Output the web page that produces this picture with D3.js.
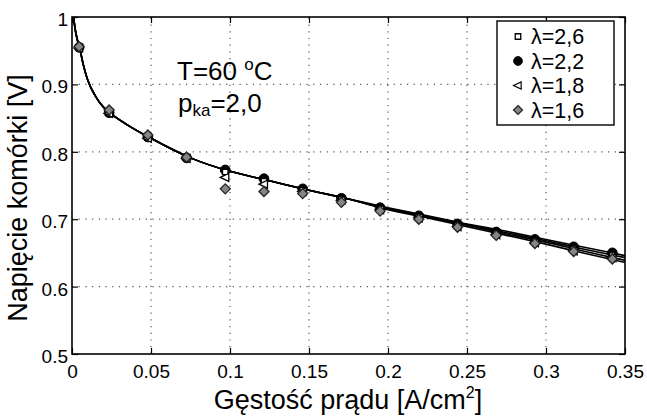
<!DOCTYPE html>
<html>
<head>
<meta charset="utf-8">
<script src="https://cdn.jsdelivr.net/npm/d3@7"></script>
<style>
  html, body { margin: 0; padding: 0; background: #fff; }
  svg { display: block; font-family: "Liberation Sans", Arial, Helvetica, sans-serif; }
</style>
</head>
<body>
<svg id="chart" width="647" height="417"></svg>
<script>
// ---- data ----
const xTicks = [0, 0.05, 0.1, 0.15, 0.2, 0.25, 0.3, 0.35];
const xTickLabels = ["0", "0.05", "0.1", "0.15", "0.2", "0.25", "0.3", "0.35"];
const yTicks = [0.5, 0.6, 0.7, 0.8, 0.9, 1.0];
const yTickLabels = ["0.5", "0.6", "0.7", "0.8", "0.9", "1"];

const seriesNames = ["λ=2,6", "λ=2,2", "λ=1,8", "λ=1,6"];

// measured points
const pointX = [0.0045, 0.0235, 0.048, 0.0725, 0.097, 0.1215, 0.146, 0.1705, 0.195, 0.2195, 0.244, 0.2685, 0.293, 0.3175, 0.342];
const lambda26 = [0.955, 0.857, 0.821, 0.790, 0.770, 0.756, 0.743, 0.729, 0.715, 0.703, 0.691, 0.679, 0.667, 0.656, 0.646];
const lambda22 = [0.955, 0.858, 0.822, 0.791, 0.773, 0.760, 0.745, 0.731, 0.717, 0.705, 0.693, 0.681, 0.670, 0.659, 0.650];
const lambda18 = [0.954, 0.857, 0.820, 0.790, 0.762, 0.752, 0.741, 0.728, 0.714, 0.702, 0.689, 0.677, 0.665, 0.653, 0.643];
const lambda16 = [0.956, 0.862, 0.825, 0.792, 0.745, 0.741, 0.738, 0.725, 0.712, 0.700, 0.688, 0.676, 0.664, 0.652, 0.641];

// model curves
const curveX = [0.001, 0.002, 0.003, 0.005, 0.0075, 0.01, 0.015, 0.02, 0.025, 0.035, 0.05, 0.075, 0.1, 0.125, 0.15, 0.175, 0.2, 0.225, 0.25, 0.275, 0.3, 0.325, 0.35];
const model26 = [1.0, 0.982, 0.970, 0.952, 0.926, 0.906, 0.882, 0.866, 0.856, 0.840, 0.820, 0.791, 0.771, 0.757, 0.743, 0.730, 0.716, 0.704, 0.692, 0.680, 0.668, 0.655, 0.643];
const model22 = [1.0, 0.982, 0.970, 0.952, 0.926, 0.906, 0.882, 0.866, 0.856, 0.840, 0.820, 0.791, 0.771, 0.757, 0.743, 0.730, 0.717, 0.705, 0.693, 0.682, 0.670, 0.658, 0.646];
const model18 = [1.0, 0.982, 0.970, 0.952, 0.926, 0.906, 0.882, 0.866, 0.856, 0.840, 0.820, 0.791, 0.771, 0.757, 0.743, 0.730, 0.715, 0.703, 0.691, 0.678, 0.666, 0.652, 0.639];
const model16 = [1.0, 0.982, 0.970, 0.952, 0.926, 0.906, 0.882, 0.866, 0.856, 0.840, 0.820, 0.791, 0.771, 0.757, 0.743, 0.730, 0.714, 0.702, 0.689, 0.676, 0.663, 0.649, 0.636];

// ---- layout ----
const svg = d3.select("#chart");
const L = 72, R = 625, T = 17, B = 354;
const x = d3.scaleLinear().domain([0, 0.35]).range([L, R]);
const y = d3.scaleLinear().domain([0.5, 1.0]).range([B, T]);

// grid (dotted)
const grid = svg.append("g").attr("stroke", "#555").attr("stroke-width", 1.2)
  .attr("stroke-dasharray", "1.2,5.5");
grid.selectAll("line.v").data(xTicks.slice(1, -1)).join("line")
  .attr("x1", d => x(d)).attr("x2", d => x(d)).attr("y1", B).attr("y2", T);
grid.selectAll("line.h").data(yTicks.slice(1, -1)).join("line")
  .attr("y1", d => y(d)).attr("y2", d => y(d)).attr("x1", L).attr("x2", R);

// axes with inward ticks
const fmtX = d => xTickLabels[xTicks.indexOf(d)];
const fmtY = d => yTickLabels[yTicks.indexOf(d)];
const axB = svg.append("g").attr("transform", `translate(0,${B})`)
  .call(d3.axisBottom(x).tickValues(xTicks).tickFormat(fmtX).tickSizeInner(-6).tickSizeOuter(0).tickPadding(11));
const axT = svg.append("g").attr("transform", `translate(0,${T})`)
  .call(d3.axisTop(x).tickValues(xTicks).tickFormat("").tickSizeInner(-6).tickSizeOuter(0));
const axL = svg.append("g").attr("transform", `translate(${L},0)`)
  .call(d3.axisLeft(y).tickValues(yTicks).tickFormat(fmtY).tickSizeInner(-6).tickSizeOuter(0).tickPadding(4));
const axR = svg.append("g").attr("transform", `translate(${R},0)`)
  .call(d3.axisRight(y).tickValues(yTicks).tickFormat("").tickSizeInner(-6).tickSizeOuter(0));
[axB, axT, axL, axR].forEach(a => {
  a.select(".domain").remove();
  a.selectAll("line").attr("stroke", "#000").attr("stroke-width", 1.2);
  a.selectAll("text").attr("fill", "#000").style("font-size", "19px")
    .style("font-family", "'Liberation Sans', Arial, sans-serif");
});
axL.selectAll("text").attr("dy", "0.45em");

// frame
svg.append("rect").attr("x", L).attr("y", T).attr("width", R - L).attr("height", B - T)
  .attr("fill", "none").attr("stroke", "#000").attr("stroke-width", 1.6);

// model lines
const line = d3.line().x(d => x(d[0])).y(d => y(d[1])).curve(d3.curveMonotoneX);
[model26, model22, model18, model16].forEach(m => {
  svg.append("path").datum(curveX.map((cx, i) => [cx, m[i]]))
    .attr("d", line).attr("fill", "none").attr("stroke", "#000").attr("stroke-width", 1.6);
});

// markers
const sym = {
  square: d3.symbol().type(d3.symbolSquare).size(30),
  circle: d3.symbol().type(d3.symbolCircle).size(75),
  diamond: d3.symbol().type(d3.symbolDiamond2).size(64)
};
function triPath(s) { // left-pointing triangle
  return `M${-s},0L${s * 0.7},${-s * 0.8}L${s * 0.7},${s * 0.8}Z`;
}
function drawMarker(g, kind, cx, cy, scale) {
  scale = scale || 1;
  if (kind === "square") {
    g.append("path").attr("d", sym.square()).attr("transform", `translate(${cx},${cy}) scale(${scale})`)
      .attr("fill", "#fff").attr("stroke", "#000").attr("stroke-width", 1.3);
  } else if (kind === "circle") {
    g.append("path").attr("d", sym.circle()).attr("transform", `translate(${cx},${cy}) scale(${scale})`)
      .attr("fill", "#000").attr("stroke", "#000").attr("stroke-width", 1);
  } else if (kind === "triangle") {
    g.append("path").attr("d", triPath(5)).attr("transform", `translate(${cx},${cy}) scale(${scale})`)
      .attr("fill", "#fff").attr("stroke", "#000").attr("stroke-width", 1.3);
  } else {
    g.append("path").attr("d", sym.diamond()).attr("transform", `translate(${cx},${cy}) scale(${scale})`)
      .attr("fill", "#858585").attr("stroke", "#222").attr("stroke-width", 1.3);
  }
}
const kinds = ["square", "circle", "triangle", "diamond"];
const seriesVals = [lambda26, lambda22, lambda18, lambda16];
const order = [1, 0, 2, 3];
const mg = svg.append("g");
order.forEach(si => {
  seriesVals[si].forEach((v, i) => drawMarker(mg, kinds[si], x(pointX[i]), y(v)));
});

// annotation
const ann = svg.append("g").attr("fill", "#000").style("font-size", "26px");
const t1 = ann.append("text").attr("x", 177).attr("y", 80);
t1.append("tspan").text("T=60 ");
t1.append("tspan").attr("dy", -10).style("font-size", "17px").text("o");
t1.append("tspan").attr("dy", 10).text("C");
const t2 = ann.append("text").attr("x", 178).attr("y", 112);
t2.append("tspan").text("p");
t2.append("tspan").attr("dy", 4).style("font-size", "17px").text("ka");
t2.append("tspan").attr("dy", -4).text("=2,0");

// legend
const lg = svg.append("g");
lg.append("rect").attr("x", 497).attr("y", 21).attr("width", 117).attr("height", 104)
  .attr("fill", "#fff").attr("stroke", "#000").attr("stroke-width", 1.4);
const legY = [36.5, 61, 85.5, 110];
seriesNames.forEach((n, i) => {
  drawMarker(lg, kinds[i], 518, legY[i], i === 0 ? 1 : 0.9);
  lg.append("text").attr("x", 531).attr("y", legY[i]).attr("dy", "0.36em")
    .style("font-size", "21.5px").attr("fill", "#000").text(n);
});

// axis titles
svg.append("text").attr("x", 348).attr("y", 409).attr("text-anchor", "middle")
  .style("font-size", "27px").attr("fill", "#000")
  .html('Gęstość prądu [A/cm<tspan dy="-11" style="font-size:16px">2</tspan><tspan dy="11">]</tspan>');
svg.append("text").attr("transform", "translate(27,198) rotate(-90)").attr("text-anchor", "middle")
  .style("font-size", "27px").attr("fill", "#000").text("Napięcie komórki [V]");
</script>
</body>
</html>
